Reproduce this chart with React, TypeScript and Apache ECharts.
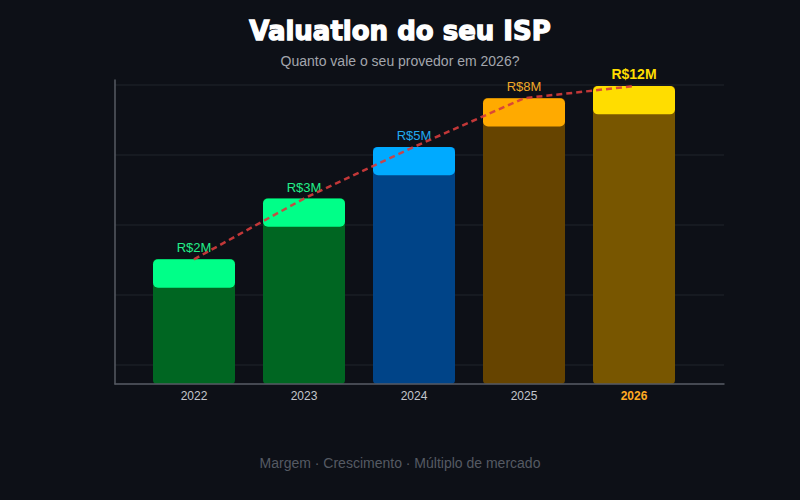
import React, { useEffect, useRef } from "react";
import * as echarts from "echarts";

const years = ["2022", "2023", "2024", "2025", "2026"];
const valuationsM = [2, 3, 5, 8, 12];
const barIndex = [41, 61, 78, 94, 98];
const capSize = 9.3;
const baseColors = ["#006622", "#006622", "#004488", "#664400", "#785600"];
const capColors = ["#00ff88", "#00ff88", "#00aaff", "#ffaa00", "#ffdd00"];
const labelColors = ["#22ee88", "#22ee88", "#22aaee", "#f0a828", "#ffdd00"];

const FONT = "'Liberation Sans', Arial, sans-serif";

export default function App() {
  const ref = useRef<HTMLDivElement>(null);

  useEffect(() => {
    if (!ref.current) return;
    const chart = echarts.init(ref.current, null, { renderer: "svg" });
    const last = years.length - 1;
    const option: any = {
      animation: false,
      backgroundColor: "#0d1017",
      textStyle: { fontFamily: FONT },
      title: [
        {
          text: "Valuation do seu ISP",
          left: "center",
          top: 13,
          textStyle: {
            color: "#ffffff",
            fontSize: 26,
            fontWeight: 900,
            fontFamily: "'DejaVu Sans', sans-serif",
            textBorderColor: "#ffffff",
            textBorderWidth: 1.3,
          },
        },
        {
          text: "Quanto vale o seu provedor em 2026?",
          left: "center",
          top: 49,
          textStyle: { color: "#a3a6ad", fontSize: 14, fontWeight: "normal", fontFamily: FONT },
        },
        {
          text: "Margem · Crescimento · Múltiplo de mercado",
          left: "center",
          top: 451,
          textStyle: { color: "#555a63", fontSize: 14, fontWeight: "normal", fontFamily: FONT },
        },
      ],
      grid: [
        { left: 139, right: 111, top: 80, bottom: 116 },
        { left: 115, right: 76, top: 80, bottom: 116 },
        { left: 115, right: 76, top: 85, bottom: 116 },
      ],
      xAxis: [
        {
          type: "category",
          gridIndex: 0,
          data: years,
          axisLine: { show: false },
          axisTick: { show: false },
          axisLabel: {
            margin: 6,
            formatter: (v: string, i: number) => (i === last ? `{hl|${v}}` : `{n|${v}}`),
            rich: {
              n: { color: "#c3c6cc", fontSize: 12, fontFamily: FONT },
              hl: { color: "#ffaa22", fontSize: 12, fontWeight: "bold", fontFamily: FONT },
            },
          },
          z: 3,
        },
        {
          type: "value",
          gridIndex: 1,
          min: 0,
          max: 1,
          axisLine: { show: true, onZero: false, lineStyle: { color: "#565a63", width: 1.5 } },
          axisTick: { show: false },
          axisLabel: { show: false },
          splitLine: { show: false },
          z: 3,
        },
        {
          type: "value",
          gridIndex: 2,
          min: 0,
          max: 1,
          show: false,
        },
      ],
      yAxis: [
        { type: "value", gridIndex: 0, min: 0, max: 100, show: false },
        {
          type: "value",
          gridIndex: 1,
          min: 0,
          max: 1,
          axisLine: { show: true, onZero: false, lineStyle: { color: "#565a63", width: 1.5 } },
          axisTick: { show: false },
          axisLabel: { show: false },
          splitLine: { show: false },
          z: 3,
        },
        {
          type: "value",
          gridIndex: 2,
          inverse: true,
          min: 0,
          max: 299,
          interval: 70,
          axisLine: { show: false },
          axisTick: { show: false },
          axisLabel: { show: false },
          splitLine: { show: true, lineStyle: { color: "#1a1e26", width: 1.5 } },
          z: 0,
        },
      ],
      series: [
        {
          type: "bar",
          xAxisIndex: 0,
          yAxisIndex: 0,
          barWidth: 82,
          barGap: "-100%",
          z: 2,
          data: barIndex.map((v, i) => ({
            value: v,
            itemStyle: { color: baseColors[i], borderRadius: 4 },
          })),
        },
        {
          type: "bar",
          xAxisIndex: 0,
          yAxisIndex: 0,
          stack: "cap",
          barWidth: 82,
          barGap: "-100%",
          silent: true,
          z: 3,
          itemStyle: { color: "rgba(0,0,0,0)" },
          data: barIndex.map((v) => v - capSize),
        },
        {
          type: "bar",
          xAxisIndex: 0,
          yAxisIndex: 0,
          stack: "cap",
          barWidth: 82,
          barGap: "-100%",
          z: 3,
          data: barIndex.map((_, i) => ({
            value: capSize,
            itemStyle: { color: capColors[i], borderRadius: 5 },
            label: {
              show: true,
              position: "top",
              distance: 5,
              formatter: `R$${valuationsM[i]}M`,
              color: labelColors[i],
              fontSize: i === last ? 14 : 13,
              fontWeight: i === last ? "bold" : "normal",
              fontFamily: FONT,
            },
          })),
        },
        {
          type: "line",
          xAxisIndex: 0,
          yAxisIndex: 0,
          data: barIndex,
          symbol: "none",
          z: 5,
          lineStyle: { color: "#d63c3c", width: 2.5, type: [6, 4], opacity: 0.9 },
        },
      ],
    };
    chart.setOption(option);
    return () => chart.dispose();
  }, []);

  return <div ref={ref} style={{ width: 800, height: 500, position: "absolute", left: 0, top: 0 }} />;
}
